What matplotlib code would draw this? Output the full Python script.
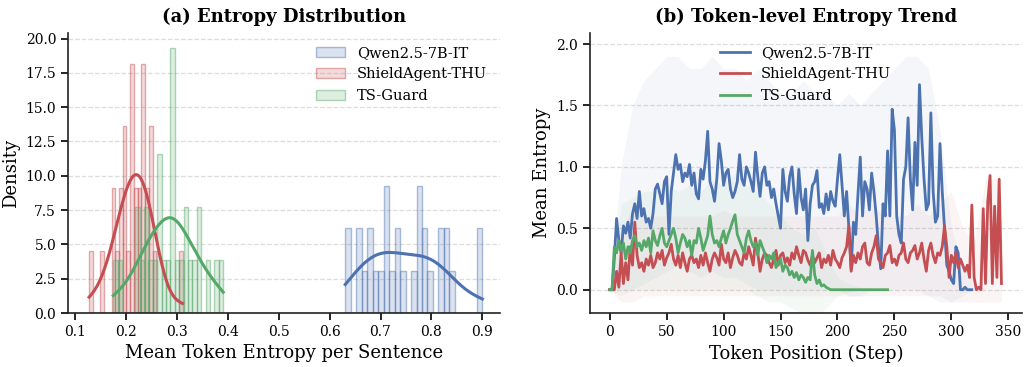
import numpy as np
import matplotlib
matplotlib.use("Agg")
import matplotlib.pyplot as plt
from matplotlib.colors import to_rgba
import seaborn as sns

# ---------------- data ----------------
labels = ["Qwen2.5-7B-IT", "ShieldAgent-THU", "TS-Guard"]
colors = ["#4C72B0", "#C44E52", "#55A868"]

# (a) per-sentence mean token entropy (30 sentences per model)
qwen_entropy = [0.6307, 0.636, 0.657, 0.658, 0.668, 0.679, 0.680, 0.690, 0.701, 0.711,
                0.712, 0.712, 0.722, 0.733, 0.734, 0.744, 0.765, 0.776, 0.776, 0.777,
                0.787, 0.787, 0.798, 0.819, 0.820, 0.830, 0.830, 0.841, 0.895, 0.900]
shield_entropy = [0.1275, 0.153, 0.173, 0.177, 0.183, 0.188, 0.191, 0.196, 0.198, 0.200,
                  0.205, 0.209, 0.211, 0.213, 0.215, 0.219, 0.220, 0.225, 0.228, 0.232,
                  0.234, 0.236, 0.237, 0.240, 0.243, 0.247, 0.249, 0.251, 0.256, 0.311]
tsguard_entropy = [0.175, 0.188, 0.222, 0.223, 0.231, 0.239, 0.240, 0.248, 0.257, 0.265,
                   0.266, 0.266, 0.274, 0.283, 0.291, 0.291, 0.292, 0.292, 0.292, 0.300,
                   0.309, 0.317, 0.318, 0.326, 0.335, 0.343, 0.344, 0.361, 0.378, 0.391]
n_bins = 25
kde_bw = [1.0, 1.4, 1.0]

# (b) token-level mean entropy (every 2nd token position)
qwen_steps = list(range(0, 319, 2))
qwen_mean = [0, 0, 0.25, 0.58, 0.40, 0.30,
             0.52, 0.46, 0.55, 0.42, 0.62, 0.70, 0.58, 0.80, 0.60, 0.66,
             0.55, 0.58, 0.50, 0.62, 0.82, 0.86, 0.78, 0.70, 0.88, 0.92,
             0.45, 0.80, 0.95, 1.10, 0.98, 1.02, 0.88, 0.95, 0.92, 1.02,
             0.85, 0.95, 0.78, 0.74, 0.98, 0.90, 1.05, 1.29, 0.88, 0.82,
             0.72, 0.90, 1.19, 1.05, 0.85, 0.95, 0.98, 0.82, 0.75, 0.80,
             0.88, 1.10, 0.90, 0.85, 1.00, 0.95, 0.88, 0.80, 1.12, 0.92,
             0.76, 0.95, 1.00, 0.85, 0.88, 0.75, 0.82, 0.70, 0.60, 0.50,
             0.98, 0.80, 0.72, 0.92, 1.00, 0.78, 0.62, 0.98, 0.75, 0.65,
             0.82, 0.40, 0.70, 0.85, 0.88, 0.97, 0.67, 0.70, 0.62, 0.78,
             0.65, 0.80, 0.72, 0.68, 0.90, 1.10, 0.85, 0.60, 0.80, 0.50,
             0.17, 0.55, 0.45, 0.78, 1.08, 0.60, 0.88, 0.82, 0.65, 0.95,
             0.80, 0.60, 0.35, 0.17, 0.70, 0.60, 1.13, 0.60, 1.47, 1.30,
             0.60, 0.45, 0.38, 0.90, 1.00, 1.40, 0.90, 0.65, 1.20, 0.85,
             1.67, 1.24, 0.90, 0.65, 0.70, 1.44, 0.80, 0.55, 0.60, 1.19,
             0.80, 0.50, 0.20, 0.15, 0.08, 0.05, 0.35, 0.30, 0.0, 0.0,
             0.02, 0.0, 0.0, 0.0]
shield_steps = list(range(0, 345, 2))
shield_mean = [0, 0, 0, 0.15, 0.02, 0.30,
               0.05, 0.22, 0.08, 0.35, 0.20, 0.55, 0.28, 0.18, 0.22, 0.15,
               0.25, 0.20, 0.28, 0.18, 0.22, 0.30, 0.25, 0.32, 0.20, 0.26,
               0.30, 0.37, 0.25, 0.20, 0.28, 0.18, 0.30, 0.22, 0.15, 0.25,
               0.28, 0.22, 0.25, 0.18, 0.28, 0.20, 0.30, 0.22, 0.15, 0.25,
               0.30, 0.26, 0.20, 0.37, 0.25, 0.22, 0.30, 0.18, 0.26, 0.32,
               0.28, 0.22, 0.20, 0.30, 0.25, 0.35, 0.28, 0.20, 0.42, 0.30,
               0.15, 0.25, 0.30, 0.28, 0.22, 0.18, 0.25, 0.32, 0.20, 0.28,
               0.30, 0.22, 0.26, 0.20, 0.30, 0.25, 0.35, 0.28, 0.22, 0.32,
               0.30, 0.24, 0.20, 0.28, 0.22, 0.26, 0.30, 0.18, 0.25, 0.22,
               0.28, 0.20, 0.32, 0.25, 0.22, 0.18, 0.26, 0.30, 0.35, 0.52,
               0.15, 0.28, 0.22, 0.30, 0.25, 0.35, 0.38, 0.22, 0.20, 0.30,
               0.35, 0.44, 0.25, 0.22, 0.18, 0.28, 0.30, 0.36, 0.22, 0.25,
               0.20, 0.28, 0.30, 0.38, 0.25, 0.22, 0.30, 0.32, 0.36, 0.25,
               0.30, 0.38, 0.25, 0.15, 0.32, 0.38, 0.28, 0.22, 0.30, 0.28,
               0.35, 0.52, 0.35, 0.10, 0.28, 0.22, 0.30, 0.18, 0.25, 0.20,
               0.15, 0.20, 0.10, 0.69, 0.10, 0.0, 0.02, 0.0, 0.66, 0.05,
               0.72, 0.93, 0.05, 0.68, 0.10, 0.90, 0.05]
tsguard_steps = list(range(0, 245, 2))
tsguard_mean = [0, 0, 0.35, 0.30, 0.40, 0.32,
                0.38, 0.25, 0.35, 0.30, 0.40, 0.44, 0.35, 0.38, 0.32, 0.40,
                0.35, 0.42, 0.30, 0.48, 0.40, 0.36, 0.44, 0.50, 0.38, 0.35,
                0.40, 0.45, 0.50, 0.42, 0.30, 0.38, 0.45, 0.42, 0.35, 0.40,
                0.28, 0.40, 0.38, 0.50, 0.42, 0.32, 0.38, 0.44, 0.60, 0.45,
                0.38, 0.40, 0.35, 0.42, 0.48, 0.38, 0.45, 0.50, 0.56, 0.61,
                0.45, 0.40, 0.35, 0.30, 0.42, 0.48, 0.40, 0.35, 0.38, 0.28,
                0.40, 0.35, 0.30, 0.22, 0.28, 0.25, 0.30, 0.18, 0.22, 0.25,
                0.15, 0.20, 0.18, 0.12, 0.15, 0.10, 0.14, 0.08, 0.12, 0.10,
                0.06, 0.10, 0.08, 0.32, 0.12, 0.05, 0.08, 0.03, 0.04, 0.02,
                0.01, 0.0, 0.0, 0.0, 0.0, 0.0, 0.0, 0.0, 0.0, 0.0,
                0.0, 0.0, 0.0, 0.0, 0.0, 0.0, 0.0, 0.0, 0.0, 0.0,
                0.0, 0.0, 0.0, 0.0, 0.0, 0.0, 0.0]

# spread band (coarse, every 10 tokens)
qwen_band_steps = list(range(0, 311, 10)) + [318]
qwen_upper = [0.0, 1.0, 1.5, 1.7, 1.8, 1.9, 1.9, 1.8, 1.8, 1.9, 1.8, 1.8, 1.7, 1.8, 1.7, 1.6,
              1.6, 1.7, 1.6, 1.6, 1.5, 1.6, 1.5, 1.6, 1.7, 1.8, 1.9, 1.9, 1.8, 1.3, 0.5, 0.2, 0.1]
qwen_lower = [0.0, 0.0, 0.0, 0.05, 0.1, 0.15, 0.2, 0.15, 0.1, 0.15, 0.1, 0.1, 0.05, 0.0, 0.0, 0.0,
              0.0, 0.0, 0.0, 0.0, 0.0, -0.05, -0.05, 0.0, 0.0, 0.0, 0.0, 0.0, -0.05, -0.1, -0.1, -0.05, 0.0]
shield_band_steps = list(range(0, 341, 10)) + [344]
shield_upper = [0.0, 0.5, 0.65, 0.6, 0.6, 0.6, 0.6, 0.6, 0.6, 0.6, 0.65, 0.6, 0.6, 0.6, 0.6, 0.6,
                0.6, 0.6, 0.6, 0.6, 0.6, 0.7, 0.6, 0.7, 0.6, 0.6, 0.6, 0.7, 0.6, 0.7, 0.8, 0.5, 0.4, 0.9, 0.9, 0.5]
shield_lower = [0.0, -0.1, -0.1, -0.05, -0.05, -0.05, -0.05, -0.05, -0.05, -0.05, -0.05, -0.05, -0.05,
                -0.05, -0.05, -0.05, -0.05, -0.05, -0.05, -0.05, -0.05, -0.05, -0.05, -0.05, -0.05,
                -0.05, -0.05, -0.05, -0.05, -0.05, -0.1, -0.1, -0.1, -0.1, -0.1, -0.1]
tsguard_band_steps = list(range(0, 241, 10)) + [244]
tsguard_upper = [0.0, 0.7, 0.75, 0.8, 0.8, 0.85, 0.8, 0.85, 0.8, 0.9, 0.85, 0.95, 0.85, 0.8, 0.7,
                 0.6, 0.5, 0.45, 0.5, 0.3, 0.1, 0.05, 0.02, 0.0, 0.0, 0.0]
tsguard_lower = [0.0, -0.05, 0.0, 0.0, 0.0, 0.0, 0.0, 0.0, 0.0, 0.0, 0.0, 0.0, 0.0, -0.05, -0.1,
                 -0.1, -0.15, -0.2, -0.25, -0.15, -0.05, -0.02, 0.0, 0.0, 0.0, 0.0]

# ---------------- style ----------------
plt.rcParams["font.family"] = ["DejaVu Serif"]
plt.rcParams["axes.edgecolor"] = "#222222"
plt.rcParams["axes.linewidth"] = 1.2
plt.rcParams["xtick.major.width"] = 1.2
plt.rcParams["ytick.major.width"] = 1.2
plt.rcParams["xtick.major.size"] = 5
plt.rcParams["ytick.major.size"] = 5

fig = plt.figure(figsize=(10.24, 3.67), dpi=100)
ax1 = fig.add_axes([0.0664, 0.147, 0.422, 0.763])
ax2 = fig.add_axes([0.576, 0.147, 0.422, 0.763])

# ---------------- (a) ----------------
for data, lab, col, bw in zip([qwen_entropy, shield_entropy, tsguard_entropy], labels, colors, kde_bw):
    sns.histplot(data, bins=n_bins, stat="density", kde=True, color=col, alpha=0.2,
                 edgecolor=to_rgba(col, 0.45), linewidth=1.0, label=lab, ax=ax1,
                 kde_kws={"bw_adjust": bw}, line_kws={"linewidth": 2.2})
ax1.set_xlim(0.086, 0.935)
ax1.set_ylim(0, 20.4)
ax1.set_xticks([0.1, 0.2, 0.3, 0.4, 0.5, 0.6, 0.7, 0.8, 0.9])
ax1.set_yticks([0.0, 2.5, 5.0, 7.5, 10.0, 12.5, 15.0, 17.5, 20.0])
ax1.set_yticklabels(["0.0", "2.5", "5.0", "7.5", "10.0", "12.5", "15.0", "17.5", "20.0"])
ax1.set_title("(a) Entropy Distribution", fontsize=13, fontweight="bold", pad=8)
ax1.set_xlabel("Mean Token Entropy per Sentence", fontsize=13)
ax1.set_ylabel("Density", fontsize=13)
ax1.legend(loc="upper right", frameon=False, fontsize=10.5)

# ---------------- (b) ----------------
series = [(qwen_steps, qwen_mean, qwen_band_steps, qwen_lower, qwen_upper),
          (shield_steps, shield_mean, shield_band_steps, shield_lower, shield_upper),
          (tsguard_steps, tsguard_mean, tsguard_band_steps, tsguard_lower, tsguard_upper)]
for (xs, ys, bx, lo, up), lab, col in zip(series, labels, colors):
    ax2.fill_between(bx, lo, up, color=col, alpha=0.06, linewidth=0)
    ax2.plot(xs, ys, color=col, linewidth=2.0, label=lab)
ax2.set_xlim(-17.5, 362)
ax2.set_ylim(-0.19, 2.09)
ax2.set_xticks([0, 50, 100, 150, 200, 250, 300, 350])
ax2.set_yticks([0.0, 0.5, 1.0, 1.5, 2.0])
ax2.set_title("(b) Token-level Entropy Trend", fontsize=13, fontweight="bold", pad=8)
ax2.set_xlabel("Token Position (Step)", fontsize=13)
ax2.set_ylabel("Mean Entropy", fontsize=13)
ax2.legend(loc="upper center", frameon=False, fontsize=10.5)

for ax in (ax1, ax2):
    ax.spines["top"].set_visible(False)
    ax.spines["right"].set_visible(False)
    ax.grid(axis="y", linestyle="--", color="#dddddd", linewidth=0.9)
    ax.set_axisbelow(True)
    ax.tick_params(labelsize=10, direction="out")

fig.savefig("out.png", dpi=100)
